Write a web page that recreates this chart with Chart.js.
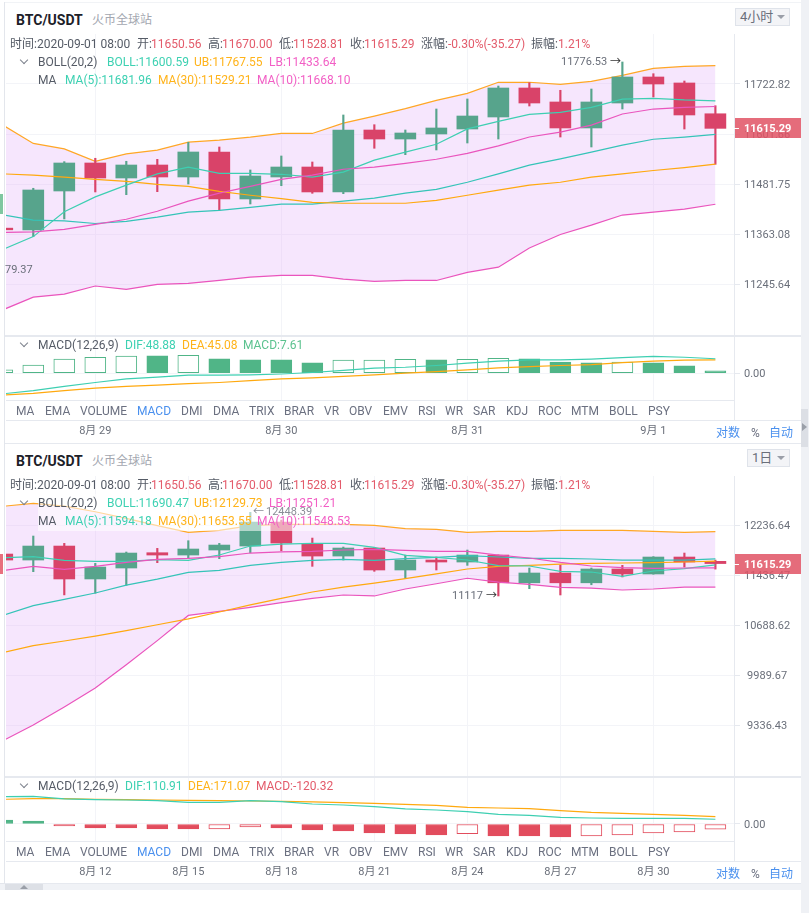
<!DOCTYPE html>
<html>
<head>
<meta charset="utf-8">
<script src="https://cdn.jsdelivr.net/npm/chart.js@4/dist/chart.umd.min.js"></script>
<style>
html, body { margin: 0; padding: 0; background: #fff; }
body { width: 809px; height: 913px; position: relative; overflow: hidden; font-family: Roboto, "Noto Sans CJK SC", sans-serif; font-size: 12px; color: #555b66; }
canvas { position: absolute; display: block; }
.t { position: absolute; white-space: nowrap; line-height: 14px; }
.b { position: absolute; }
.sel { position: absolute; background: #f3f4f7; border: 1px solid #dfe3ea; box-sizing: border-box; color: #6a6f7a; font-size: 13px; line-height: 16px; }
.sel i { position: absolute; right: 4px; top: 6px; border: 4px solid transparent; border-top: 4px solid #9a9ea8; border-bottom: 0; }
.chev { position: absolute; width: 5px; height: 5px; border-right: 1px solid #7d828d; border-bottom: 1px solid #7d828d; transform: rotate(45deg); }
</style>
</head>
<body>
<script>
// 4 hour chart ---------------------------------------------
const opens1 = [11377, 11372.7, 11465.1, 11532, 11496.1, 11527.2, 11498.5, 11558.4, 11446.1, 11498.5, 11522.4, 11462.8, 11611.3, 11589.6, 11601.7, 11613.7, 11642.7, 11713.1, 11679.1, 11616.2, 11676.6, 11739.9, 11725.3, 11650.56];
const highs1 = [11382, 11471.6, 11535.2, 11543.3, 11536.1, 11540.8, 11581.7, 11570.4, 11515.3, 11548.8, 11534.4, 11647.6, 11624.1, 11611.3, 11662.1, 11686.4, 11717.9, 11726, 11707.5, 11710.6, 11776.53, 11747.9, 11730.1, 11670];
const lows1 = [11370, 11356.9, 11398.7, 11462.8, 11456.3, 11463.5, 11481.75, 11420, 11434.2, 11477.7, 11459.6, 11458.7, 11567.3, 11551.9, 11563.2, 11580, 11589.6, 11669.3, 11594.4, 11570.4, 11662.1, 11691.2, 11613.7, 11528.81];
const closes1 = [11373, 11467.5, 11532, 11496.1, 11527.2, 11498.5, 11558.4, 11446.1, 11500.9, 11522.4, 11462.8, 11611.3, 11589.6, 11604.1, 11616.2, 11645.1, 11713.1, 11676.6, 11616.2, 11679.1, 11739.9, 11722.8, 11647.6, 11615.29];
const ub1 = [11624, 11579, 11566, 11536, 11554, 11563, 11582, 11587, 11594, 11603, 11603, 11628, 11645, 11663, 11683, 11700, 11727, 11727, 11722, 11729, 11744, 11761, 11766, 11767.55];
const mb1 = [11409, 11396, 11394, 11388, 11393, 11403, 11415, 11419, 11426, 11434, 11434, 11441, 11448, 11460, 11469, 11486, 11506, 11527, 11542, 11558, 11575, 11589, 11594, 11600.59];
const lb1 = [11185, 11215, 11222, 11241, 11233, 11245, 11247, 11254, 11262, 11266, 11266, 11257, 11252, 11254, 11254, 11273, 11285, 11330, 11362, 11384, 11408, 11415, 11422, 11433.64];
const ma5s1 = [11326, 11357, 11416, 11451, 11479, 11506, 11522, 11507, 11507, 11505, 11498, 11510, 11539, 11558, 11577, 11614, 11632, 11649, 11654, 11666, 11686, 11688, 11684, 11681.96];
const ma30s1 = [11506, 11503, 11498, 11493, 11488, 11481, 11476, 11464, 11455, 11447, 11438, 11436, 11436, 11436, 11443, 11455, 11467, 11479, 11486, 11498, 11506, 11514, 11521, 11529.21];
const ma10s1 = [11367, 11368, 11374, 11386, 11398, 11417, 11441, 11460, 11476, 11493, 11503, 11517, 11522, 11531, 11541, 11555, 11573, 11594.5, 11606, 11623, 11650, 11662, 11666, 11668.1];
const macdBars1 = [11, 27, 48, 54, 58, 59, 61, 49, 45, 45, 35, 44, 44, 47, 45, 47, 50, 49, 38, 35, 38, 35, 25, 7.61];
const macdHollow1 = [1, 1, 1, 1, 1, 0, 1, 0, 0, 0, 0, 1, 1, 1, 0, 1, 1, 0, 0, 0, 1, 0, 0, 0];
const dif1 = [-71, -60, -45, -32, -20, -14, -7, -7, -6, -3, 2, 9, 17, 20, 26, 34, 41, 45, 45, 48, 53, 57, 54, 48.88];
const dea1 = [-75, -69, -60, -51, -45, -41, -36, -32, -26, -20, -16, -11, -6, 0, 5, 11, 18, 22, 26, 29, 36, 41, 44, 45.08];
const priceTicks1 = [11722.82, 11601.66, 11481.75, 11363.08, 11245.64];
const dateIdx1 = [3, 9, 15, 21];
const dateLabels1 = ["8月 29", "8月 30", "8月 31", "9月 1"];

// 1 day chart ----------------------------------------------
const opens2 = [11766, 11671, 11894, 11375.5, 11545.6, 11787, 11750, 11830, 11894, 12286, 11926, 11734, 11862, 11514.5, 11671, 11639.5, 11750, 11316.8, 11468, 11316.8, 11530, 11452.5, 11718.5, 11650.56];
const highs2 = [11780, 12056, 11937, 11618.6, 11798, 11856.5, 11980, 11937, 12448.39, 12319, 12023, 11878, 11870, 11750, 11718.5, 11830, 11752, 11545.6, 11592.5, 11545.6, 11587, 11724, 11782, 11670];
const lows2 = [11660, 11488.6, 11133, 11158, 11278.8, 11629, 11692, 11692, 11787, 11819, 11571.6, 11671, 11494, 11385.7, 11514.5, 11587, 11117, 11227, 11132, 11287, 11406.6, 11450, 11561, 11528.81];
const closes2 = [11671, 11894, 11375.5, 11561, 11782, 11750, 11846, 11910, 12286, 11942, 11734, 11862, 11514.5, 11671, 11639.5, 11750, 11316.8, 11468, 11316.8, 11530, 11452.5, 11718.5, 11639.5, 11615.29];
const ub2 = [12550, 12600, 12555, 12459, 12347, 12226, 12116, 12149, 12226, 12248, 12248, 12248, 12231, 12176, 12165, 12116, 12132, 12132, 12149, 12149, 12149, 12132, 12116, 12129.73];
const mb2 = [10828, 10973, 11067, 11162, 11282, 11372, 11478, 11509, 11587, 11634, 11666, 11682, 11666, 11692, 11713, 11740, 11719, 11697, 11697, 11687, 11671, 11671, 11671, 11690.47];
const lb2 = [9137, 9336, 9567, 9816, 10129, 10465, 10828, 10888, 10948, 11018, 11082, 11132, 11117, 11222, 11302, 11387, 11327, 11292, 11247, 11237, 11207, 11222, 11252, 11251.21];
const ma5s2 = [11708, 11724, 11666, 11650, 11650, 11676, 11666, 11750, 11894, 11926, 11937, 11937, 11873, 11745, 11713, 11671, 11582, 11577, 11494, 11483, 11417, 11499, 11535, 11594.18];
const ma30s2 = [10297, 10395, 10460, 10530, 10609, 10693, 10778, 10878, 10983, 11082, 11177, 11252, 11312, 11382, 11453, 11530, 11572, 11587, 11608, 11619, 11624, 11629, 11640, 11653.55];
const ma10s2 = [11504, 11572, 11525, 11572, 11634, 11682, 11697, 11724, 11782, 11799, 11809, 11830, 11841, 11825, 11809, 11809, 11750, 11703, 11634, 11577, 11551, 11540, 11546, 11548.53];
const macdBars2 = [93, 70, -47, -93, -93, -117, -117, -117, -70, -93, -140, -163, -210, -233, -256, -225, -280, -280, -303, -280, -256, -210, -186, -120.32];
const macdHollow2 = [0, 0, 0, 0, 0, 0, 0, 1, 1, 0, 0, 0, 0, 0, 0, 1, 0, 0, 0, 1, 1, 1, 1, 1];
const dif2 = [637, 645, 583, 567, 559, 544, 505, 505, 544, 521, 466, 443, 404, 350, 326, 287, 225, 202, 155, 140, 132, 132, 132, 110.91];
const dea2 = [575, 590, 590, 575, 567, 559, 552, 544, 536, 528, 513, 497, 482, 458, 435, 389, 373, 357, 311, 272, 249, 225, 202, 171.07];
const priceTicks2 = [12236.64, 11436.47, 10688.62, 9989.67, 9336.43];
const dateIdx2 = [3, 6, 9, 12, 15, 18, 21];
const dateLabels2 = ["8月 12", "8月 15", "8月 18", "8月 21", "8月 24", "8月 27", "8月 30"];

const tabNames = ["MA", "EMA", "VOLUME", "MACD", "DMI", "DMA", "TRIX", "BRAR", "VR", "OBV", "EMV", "RSI", "WR", "SAR", "KDJ", "ROC", "MTM", "BOLL", "PSY"];
const tabX = [16, 45, 80, 137, 181, 213, 249, 284, 324, 349, 383, 418, 445, 473, 506, 538, 571, 609, 648];

// Colours ---------------------------------------------------
const GREEN = "#57a48c", RED = "#d94369";
const MGREEN = "#50b587", MRED = "#e24c5d";
const TEAL = "#3ecfb2", ORANGE = "#ffa90f", PINK = "#ea55bd";
const GRID = "#f3f4f8", AXIS = "#e6e9ef", TICKTEXT = "#6a6f7a";
const FONT = 'Roboto, "Noto Sans CJK SC", sans-serif';
const X_MIN = 0.12, X_MAX = 23.6;

Chart.defaults.font.family = FONT;
Chart.defaults.font.size = 11;

const pts = (arr) => arr.map((v, i) => ({ x: i, y: v }));

function addCanvas(top, height) {
  const c = document.createElement("canvas");
  c.width = 789;
  c.height = height;
  c.style.left = "6px";
  c.style.top = top + "px";
  document.body.appendChild(c);
  return c;
}

function line(data, color, order, extra) {
  return Object.assign({ type: "line", data: pts(data), borderColor: color, borderWidth: 1.2, pointRadius: 0, tension: 0, fill: false, order }, extra);
}

function noPadding(ax) {
  ax.paddingTop = 0;
  ax.paddingBottom = 0;
  ax.paddingLeft = 0;
  ax.paddingRight = 0;
}

function baseScales(grids, yScale, xHeight, dateLabels) {
  return {
    x: {
      type: "linear", offset: false, min: X_MIN, max: X_MAX,
      border: { display: false },
      grid: { color: GRID, offset: false, drawTicks: false },
      ticks: {
        display: xHeight > 0, autoSkip: false, maxRotation: 0, padding: 25, color: TICKTEXT,
        callback: (v) => (dateLabels ? dateLabels[grids.indexOf(v)] : ""),
      },
      afterBuildTicks: (ax) => { ax.ticks = grids.map((v) => ({ value: v })); },
      afterFit: (ax) => { ax.height = xHeight; noPadding(ax); },
    },
    y: yScale,
  };
}

function yAxis(type, min, max, ticks) {
  return {
    type, position: "right", min, max, bounds: "data", beginAtZero: false,
    border: { color: AXIS },
    grid: { color: GRID, tickColor: AXIS, tickLength: 6 },
    ticks: { autoSkip: false, crossAlign: "center", padding: 4, labelOffset: 1, color: TICKTEXT, callback: (v) => Number(v).toFixed(2) },
    afterBuildTicks: (ax) => { ax.ticks = ticks.map((v) => ({ value: v })); },
    afterFit: (ax) => { ax.width = 61; noPadding(ax); },
  };
}

const commonOptions = {
  responsive: false, animation: false, devicePixelRatio: 1,
  layout: { autoPadding: false, padding: 0 },
  plugins: { legend: { display: false }, tooltip: { enabled: false } },
  events: [],
};

function priceChart(top, height, o, h, l, c, ub, mb, lb, ma5, ma30, ma10, yMin, yMax, yTicks, grids) {
  const cols = c.map((v, i) => (v >= o[i] ? GREEN : RED));
  new Chart(addCanvas(top, height), {
    type: "bar",
    data: {
      datasets: [
        line(ub, "#ffa726", 20, { fill: { target: 2 }, backgroundColor: "rgba(226,176,250,0.32)" }),
        line(mb, "#35c4b8", 5),
        line(lb, PINK, 6),
        line(ma5, TEAL, 3),
        line(ma30, ORANGE, 4),
        line(ma10, PINK, 2),
        {
          data: l.map((v, i) => ({ x: i, y: [v, h[i]] })),
          backgroundColor: cols, barThickness: 1.5, grouped: false, order: 9, borderSkipped: false,
        },
        {
          data: o.map((v, i) => ({ x: i, y: [v, c[i]] })),
          backgroundColor: cols, barThickness: 21, grouped: false, order: 8, borderSkipped: false,
        },
      ],
    },
    options: Object.assign({}, commonOptions, {
      scales: baseScales(grids, yAxis("logarithmic", yMin, yMax, yTicks), 0),
    }),
  });
}

function macdChart(top, bars, hollow, dif, dea, yMin, yMax, grids, labels) {
  const cols = bars.map((v) => (v >= 0 ? MGREEN : MRED));
  new Chart(addCanvas(top, 108), {
    type: "bar",
    data: {
      datasets: [
        line(dea, ORANGE, 2),
        line(dif, TEAL, 1),
        {
          data: pts(bars),
          backgroundColor: bars.map((v, i) => (hollow[i] ? "#fff" : cols[i])),
          borderColor: cols, borderWidth: 1, barThickness: 21, grouped: false, order: 5, borderSkipped: false,
        },
      ],
    },
    options: Object.assign({}, commonOptions, {
      scales: baseScales(grids, yAxis("linear", yMin, yMax, [0]), 43, labels),
    }),
  });
}

priceChart(34, 301, opens1, highs1, lows1, closes1, ub1, mb1, lb1, ma5s1, ma30s1, ma10s1, 11127.2, 11845.2, priceTicks1, dateIdx1);
macdChart(335, macdBars1, macdHollow1, dif1, dea1, -91.8, 130, dateIdx1, dateLabels1);
priceChart(476, 300, opens2, highs2, lows2, closes2, ub2, mb2, lb2, ma5s2, ma30s2, ma10s2, 8714, 13076, priceTicks2, dateIdx2);
macdChart(776, macdBars2, macdHollow2, dif2, dea2, -396, 1118, dateIdx2, dateLabels2);

// Chrome around the charts ---------------------------------
function box(x, y, w, h, bg) {
  const d = document.createElement("div");
  d.className = "b";
  d.style.cssText = `left:${x}px;top:${y}px;width:${w}px;height:${h}px;background:${bg}`;
  document.body.appendChild(d);
  return d;
}
function text(x, y, s, color, extra) {
  const d = document.createElement("div");
  d.className = "t";
  d.textContent = s;
  d.style.cssText = `left:${x}px;top:${y - 6}px;color:${color || "#555b66"};${extra || ""}`;
  document.body.appendChild(d);
  return d;
}
function chevron(x, y) {
  const d = document.createElement("div");
  d.className = "chev";
  d.style.left = x + "px";
  d.style.top = y + "px";
  document.body.appendChild(d);
}
function select(x, y, w, h, label) {
  const d = document.createElement("div");
  d.className = "sel";
  d.style.cssText = `left:${x}px;top:${y}px;width:${w}px;height:${h}px;padding-left:4px`;
  d.textContent = label;
  d.appendChild(document.createElement("i"));
  document.body.appendChild(d);
}

const VAL = "#e35b6b", CT = "#3dd1b2", CO = "#ffb31a", CP = "#f25fc5", BLUE = "#4a90ee", LBL = "#555b66";

// outer frame
box(4, 2, 797, 1, "#f1f3f6");
box(4, 2, 1, 881, "#e3e6ec");
box(801, 0, 8, 913, "#eff1f5");
box(801, 409, 7, 38, "#dcdfe5");
box(0, 883, 801, 1, "#e3e6ec");
box(0, 884, 801, 6, "#f0f2f6");
box(5, 884, 38, 6, "#dde0e6");
box(802, 423, 5, 8, "#9a9fa8").style.clipPath = "polygon(0 0, 100% 50%, 0 100%)";
box(20, 885, 8, 4, "#9a9fa8").style.clipPath = "polygon(50% 0, 100% 100%, 0 100%)";

function panel(dy, tabsY, labelY, lineBottom) {
  box(734, 400 + dy, 1, 20, AXIS);
  box(6, 400 + dy, 728, 1, AXIS);
  box(6, 420 + dy, 795, 1, AXIS);
  box(5, 335 + dy, 796, 1.5, AXIS);
  tabNames.forEach((n, i) => text(tabX[i], tabsY, n, n === "MACD" ? BLUE : "#6b7080"));
  text(716, labelY, "对数", BLUE);
  text(751, labelY, "%", "#6b7080");
  text(769, labelY, "自动", BLUE);
  box(5, lineBottom, 796, 1, AXIS);
}
panel(0, 410, 432, 443);
panel(441, 851, 873, 883);

function header(dy, selLabel, selX, selW) {
  text(16, 19 + dy, "BTC/USDT", "#1c2028", "font-size:14px;font-weight:700");
  text(92, 19 + dy, "火币全球站", "#a3a7b0");
  select(selX, 8 + dy, selW, 18, selLabel);
  const row = 43 + dy;
  text(10, row, "时间:2020-09-01 08:00", LBL);
  [[137, "开:", "11650.56"], [208, "高:", "11670.00"], [279, "低:", "11528.81"], [350, "收:", "11615.29"]].forEach((r) => {
    text(r[0], row, r[1], LBL);
    text(r[0] + 14, row, r[2], VAL);
  });
  text(421, row, "涨幅:", LBL);
  text(448, row, "-0.30%(-35.27)", VAL);
  text(531, row, "振幅:", LBL);
  text(558, row, "1.21%", VAL);
}
header(0, "4小时", 735, 55);
header(441, "1日", 747, 43);

// veil behind the second legend
box(38, 494, 312, 37, "rgba(255,255,255,0.55)");

function legends(dy, boll, ub, lb, ma5, ma30, ma10) {
  chevron(21, 57 + dy);
  text(38, 61 + dy, "BOLL(20,2)", LBL);
  text(107, 61 + dy, "BOLL:" + boll, CT);
  text(194, 61 + dy, "UB:" + ub, CO);
  text(269, 61 + dy, "LB:" + lb, CP);
  text(38, 79 + dy, "MA", LBL);
  text(65, 79 + dy, "MA(5):" + ma5, CT);
  text(158, 79 + dy, "MA(30):" + ma30, CO);
  text(257, 79 + dy, "MA(10):" + ma10, CP);
}
legends(0, "11600.59", "11767.55", "11433.64", "11681.96", "11529.21", "11668.10");
legends(441, "11690.47", "12129.73", "11251.21", "11594.18", "11653.55", "11548.53");

chevron(21, 340);
text(38, 344, "MACD(12,26,9)", LBL);
text(125, 344, "DIF:48.88", CT);
text(182, 344, "DEA:45.08", CO);
text(243, 344, "MACD:7.61", "#5bc28f");
chevron(21, 781);
text(38, 785, "MACD(12,26,9)", LBL);
text(125, 785, "DIF:110.91", CT);
text(188, 785, "DEA:171.07", CO);
text(256, 785, "MACD:-120.32", VAL);

// price tags and high/low marks
const MARK = "font-size:11px";
function tag(y) {
  box(734.5, y, 66, 20, "rgba(224,82,100,0.85)");
  box(734, y + 10, 5, 1, "#fff");
  text(744, y + 10, "11615.29", "#fff", "font-weight:700;font-size:11px");
}
tag(118);
tag(554);
box(0, 194, 3, 20, "#7fc7a0");
box(0, 554, 3, 20, "#e8707e");
text(5, 269, "79.37", "#6a6f7a", MARK);
text(561, 61, "11776.53", "#6a6f7a", MARK);
text(610, 61, "→", "#333", MARK);
text(253, 511, "←", "#8a8e97", MARK);
text(266, 511, "12448.39", "#8a8e97", MARK);
text(452, 595, "11117", "#6a6f7a", MARK);
text(486, 595, "→", "#333", MARK);
</script>
</body>
</html>
